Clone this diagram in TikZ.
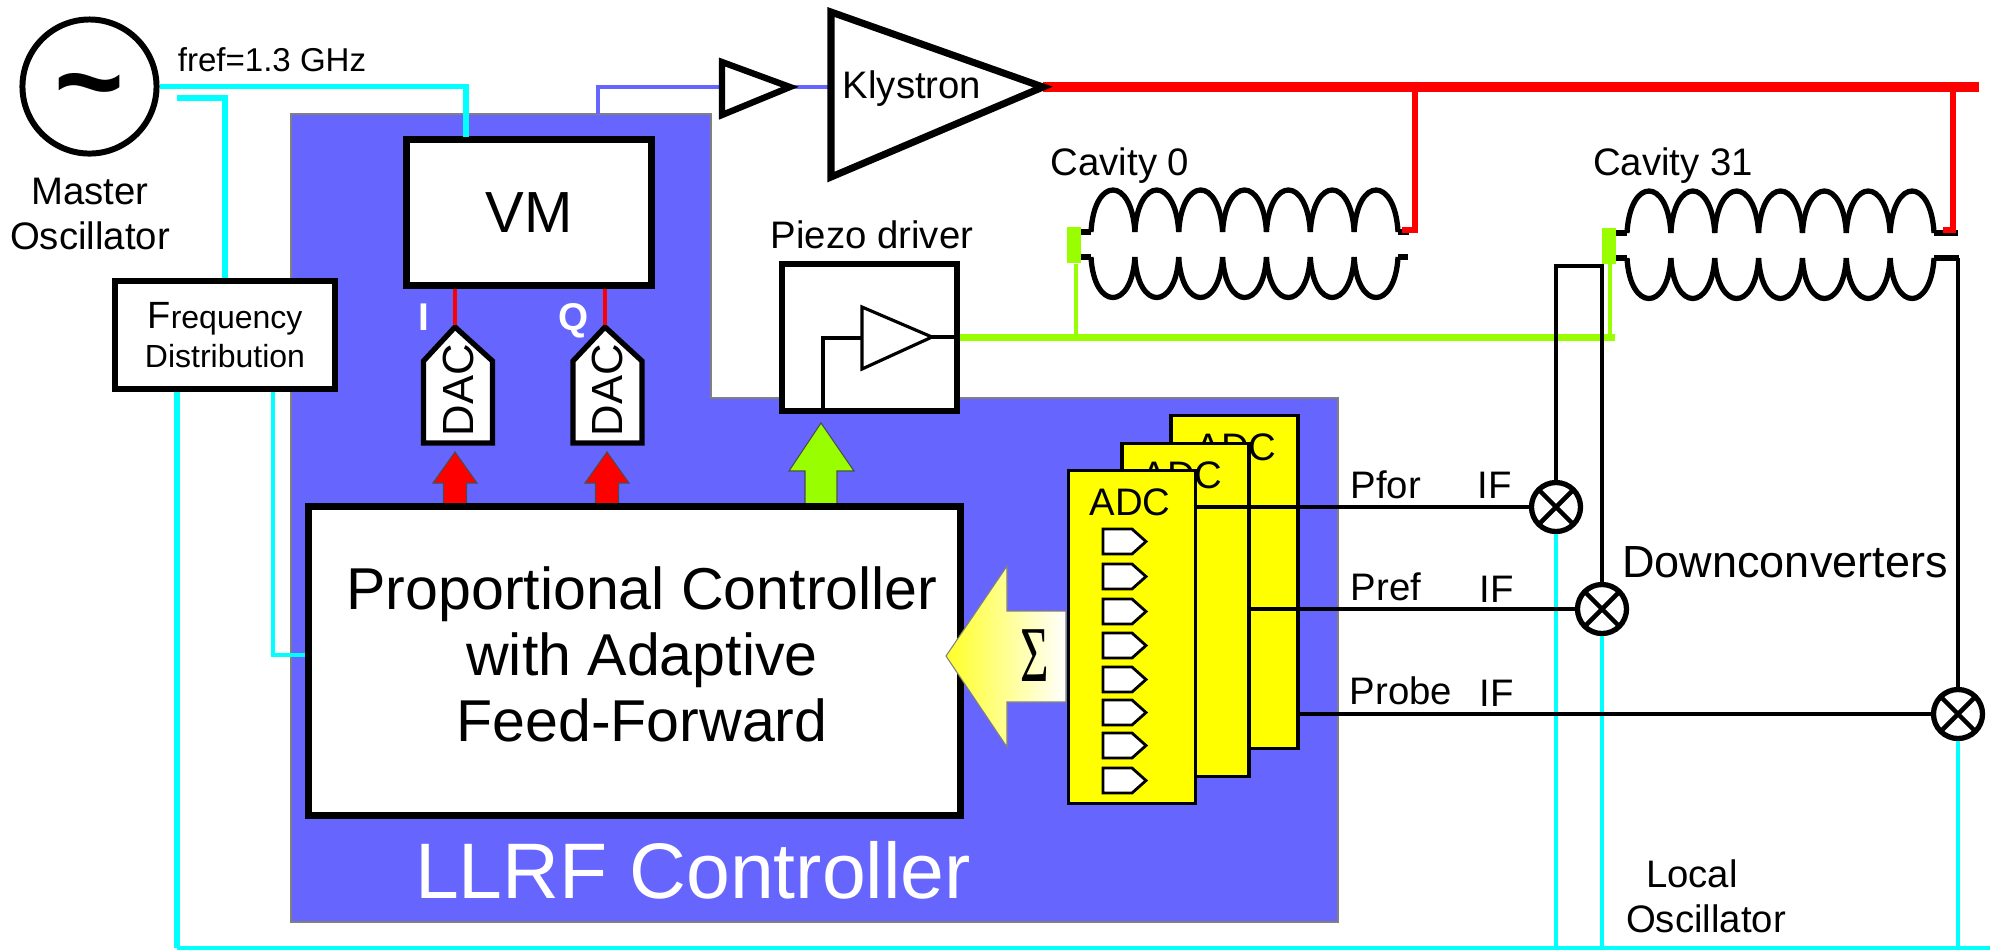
\documentclass[tikz,border=0pt]{standalone}
\usepackage{fontspec}
\setmainfont{Liberation Sans}
\newfontfamily\sigmafont{Liberation Serif}[FakeStretch=0.62]
\definecolor{panelblue}{RGB}{102,102,255}
\definecolor{limegreen}{RGB}{153,255,0}
\definecolor{rfcyan}{RGB}{0,255,255}
\definecolor{adcyellow}{RGB}{255,255,0}

\begin{document}
\begin{tikzpicture}[x=0.01cm,y=-0.01cm,
box/.style={draw,fill=white,line width=1.8pt,inner sep=0pt},
lab/.style={inner sep=0pt,anchor=base,font=\fontsize{10.9}{12.8}\selectfont},
wire/.style={line width=1.2pt},
cyanthick/.style={color=rfcyan,line width=1.6pt},
cyanthin/.style={color=rfcyan,line width=1.05pt},
bluewire/.style={color=panelblue,line width=1.4pt},
reddrop/.style={color=red,line width=1.5pt},
redthin/.style={color=red,line width=0.9pt},
greenwire/.style={color=limegreen,line width=2pt},
greenthin/.style={color=limegreen,line width=1.1pt},
coil/.style={line width=1.5pt},
tuner/.style={fill=limegreen,inner sep=0pt,minimum width=0.14cm,minimum height=0.36cm},
adcbox/.style={draw,fill=adcyellow,line width=0.95pt,inner sep=0pt,minimum width=1.27cm,minimum height=3.33cm},
mixer/.style={circle,draw,fill=white,line width=1.5pt,inner sep=0pt,minimum size=0.49cm,
path picture={\draw[line width=1.3pt] (path picture bounding box.north west) to (path picture bounding box.south east)
(path picture bounding box.north east) to (path picture bounding box.south west);}}]
\useasboundingbox (0,0) rectangle (1990,950);

%controller panel
\draw[fill=panelblue,draw=gray,line width=0.4pt] (291,114) to (711,114) to (711,398) to (1338,398) to (1338,922) to (291,922) -- cycle;
\node[lab,white,font=\fontsize{22.4}{26}\selectfont] (llrf) at (693,898) {LLRF Controller};

%oscillator and frequency box
\node[circle,draw,line width=1.7pt,inner sep=0pt,minimum size=1.34cm,font=\fontsize{34}{36}\selectfont\bfseries] (osc) at (89.5,86.5) {\raisebox{-0.36cm}[0pt][0pt]{\textasciitilde}};
\node[lab,anchor=center,align=center] (master) at (90,214) {Master\\Oscillator};
\node[lab,font=\fontsize{9.4}{11}\selectfont] (fref) at (272,71) {fref=1.3 GHz};
\node[box,minimum width=2.2cm,minimum height=1.08cm,align=center,font=\fontsize{9.1}{11}\selectfont] (freq) at (225,335) {{\fontsize{10.8}{11}\selectfont F}requency\\Distribution};

%VM and DACs
\node[box,line width=1.9pt,minimum width=2.45cm,minimum height=1.46cm,font=\fontsize{16.5}{18}\selectfont] (vm) at (529,212.5) {VM};
\foreach \d/\x/\t/\a in {I/423.5/455/455,Q/573/605/607}{
\draw[box,line width=1.5pt] (\t,327) to (\x+69,361) to (\x+69,443) to (\x,443) to (\x,361) -- cycle;
\coordinate (dactip\d) at (\t,325);
\node[inner sep=0pt,rotate=90,font=\fontsize{12.4}{14}\selectfont] (dac\d) at (\x+34.5,390) {DAC};
\draw[fill=red,draw=black!70,line width=0.3pt] (\a,452) to (\a+22,483) to (\a+11.5,483) to (\a+11.5,505) to (\a-11.5,505) to (\a-11.5,483) to (\a-22,483) -- cycle;
\draw[redthin] (vm.south -| dactip\d) to (dactip\d);}
\node[lab,white,font=\fontsize{11}{12}\selectfont\bfseries] (ilabel) at (424,330) {I};
\node[lab,white,font=\fontsize{11}{12}\selectfont\bfseries] (qlabel) at (574,330) {Q};

%controller
\draw[fill=limegreen,draw=black!70,line width=0.3pt] (821,423) to (854,471) to (837,471) to (837,505) to (805,505) to (805,471) to (789,471) -- cycle;
\node[box,line width=2pt,minimum width=6.51cm,minimum height=3.08cm] (ctrl) at (634.5,661) {};
\node[lab,anchor=center,align=center,font=\fontsize{16.8}{18.8}\selectfont] (ctrltext) at (642,654) {Proportional Controller\\with Adaptive\\Feed-Forward};

%piezo driver
\node[box,line width=1.7pt,minimum width=1.74cm,minimum height=1.46cm] (piezo) at (869.5,337.5) {};
\node[lab] (piezolabel) at (872,248) {Piezo driver};
\coordinate (pzin) at (862,338);\coordinate (pztip) at (932,337);
\draw[line width=0.9pt] (862,307) to (pztip) to (862,369) -- cycle;
\draw[line width=0.9pt] (823,410) |- (pzin);\draw[line width=0.9pt] (pztip) to (piezo.east |- pztip);

%preamp and klystron
\coordinate (vmout) at (598,114);\coordinate (preampin) at (722,87);\coordinate (preampout) at (790,87);
\coordinate (klyin) at (831,87);\coordinate (klyout) at (1043,87);\coordinate (rfend) at (1979,87);
\draw[bluewire] (vmout) |- (preampin);\draw[bluewire] (preampout) to (klyin);
\draw[color=red,line width=2.6pt] (klyout) to (rfend);
\draw[line width=1.8pt] (722,62) to (preampout) to (722,115) -- cycle;
\draw[line width=2pt] (831,12) to (klyout) to (831,177) -- cycle;
\node[lab] (klystron) at (912,98) {Klystron};

%cavities
\foreach \cx/\cy in {1091/232,1627/233}{
\foreach \i in {0,...,6}{
\draw[coil] ({\cx+43.86*\i},\cy) .. controls +(3,-56) and +(-3,-56) .. +(43.86,0);
\draw[coil] ({\cx+43.86*\i},\cy+25) .. controls +(3,54) and +(-3,54) .. +(43.86,0);}
\draw[coil] (\cx-12,\cy) to (\cx,\cy);\draw[coil] (\cx-12,\cy+25) to (\cx,\cy+25);}
\draw[coil] (1398,232) to (1409,232);\draw[coil] (1398,257) to (1408,257);
\draw[coil] (1934,233) to (1958,233);\draw[coil] (1934,258) to (1959,258);
\node[lab] (cav0) at (1120,175) {Cavity 0};
\node[lab] (cav31) at (1673,175) {Cavity 31};
\node[tuner] (tuner0) at (1073.5,245) {};
\node[tuner] (tuner31) at (1609,245.5) {};

%RF feed and piezo lines
\coordinate (cav0rf) at (1415,230);\coordinate (cav0in) at (1402,230);
\coordinate (cav31rf) at (1953,230);\coordinate (cav31in) at (1943,230);
\draw[reddrop] (cav0rf |- rfend) to (cav0rf) to (cav0in);
\draw[reddrop] (cav31rf |- rfend) to (cav31rf) to (cav31in);
\coordinate (tap0) at (1076,337);\coordinate (tap31) at (1610,337);
\draw[greenthin] (tap0) to (tap0 |- tuner0.south);
\draw[greenthin] (tap31) to (tap31 |- tuner31.south);
\draw[greenwire] (piezo.east |- tap0) to ([xshift=1.5pt]tap31);

%ADC stack
\foreach \a/\x/\y/\dx in {2/1234.5/582/1.5,1/1185.5/610/-3.5,0/1132/637/-2}{
\node[adcbox] (adc\a) at (\x,\y) {};
\node[lab] (adctext\a) at (\x+\dx,\y-122) {ADC};}
\foreach \y in {529,564,599,633,667,700,733,768}{
\draw[fill=white,line width=0.8pt] (1103,\y) to (1132,\y) to (1146,\y+12.5) to (1132,\y+25) to (1103,\y+25) -- cycle;}
\draw[left color=adcyellow!85,middle color=adcyellow!60,right color=white,draw=gray,line width=0.3pt] (946,656) to (1007,566) to (1007,611) to (1066,611) to (1066,702) to (1007,702) to (1007,747) -- cycle;
\node[inner sep=0pt,font=\fontsize{22.5}{24}\sigmafont] (sumlabel) at (1035,656) {Σ};

%mixers and local oscillator
\node[mixer] (mixfor) at (1556,507) {};
\node[mixer] (mixref) at (1602,609) {};
\node[mixer] (mixprb) at (1958,714) {};
\coordinate (lobus) at (177,948);\coordinate (loend) at (1990,948);\coordinate (ctrlin) at (273,655);
\coordinate (oscb) at (177,98);\coordinate (vmin) at (466,137);
\draw[cyanthick] (osc.east) -| (vmin);
\draw[cyanthick] (oscb) -| (freq.north);
\draw[cyanthick] (freq.south -| lobus) to (lobus);
\draw[cyanthin] (lobus) to (loend);
\draw[cyanthin] (freq.south -| ctrlin) to (ctrlin) to (ctrl.west |- ctrlin);
\foreach \m in {mixfor,mixref,mixprb}{\draw[cyanthin] (\m.south) to (\m.south |- lobus);}

\coordinate (fwdtap) at (1602,266);\coordinate (cav31out) at (1958,258);
\draw[wire] (mixfor.north) |- (fwdtap) to (mixref.north);
\draw[wire] (mixprb.north) to (cav31out);
\draw[wire] (adc0.east |- mixfor.west) to (mixfor.west);
\draw[wire] (adc1.east |- mixref.west) to (mixref.west);
\draw[wire] (adc2.east |- mixprb.west) to (mixprb.west);

\node[lab,anchor=base west] (pfor) at (1350,498) {Pfor};
\node[lab,anchor=base west] (pref) at (1350,600) {Pref};
\node[lab,anchor=base west] (probe) at (1349,704) {Probe};
\node[lab,anchor=base west] (iffor) at (1477,498) {IF};
\node[lab,anchor=base west] (ifref) at (1479,602) {IF};
\node[lab,anchor=base west] (ifprb) at (1479,706) {IF};
\node[lab,font=\fontsize{12.8}{14}\selectfont] (down) at (1785,577) {Downconverters};
\node[lab] (local) at (1692,887) {Local};
\node[lab] (lo) at (1706,932) {Oscillator};
\end{tikzpicture}
\end{document}
